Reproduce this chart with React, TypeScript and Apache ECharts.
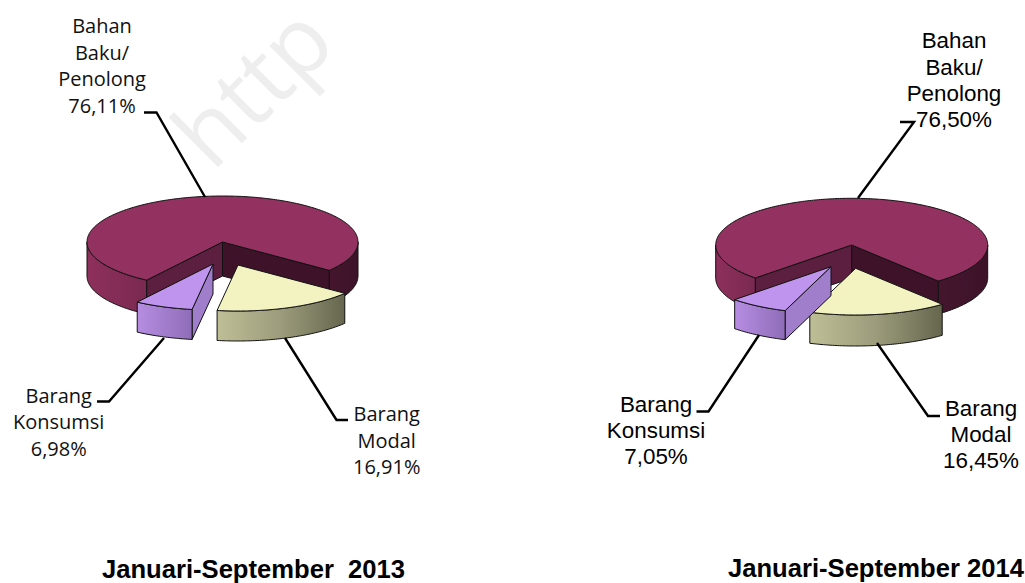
import React, { useEffect, useRef } from "react";
import * as echarts from "echarts";

const sliceNames = ["Bahan\nBaku/\nPenolong", "Barang\nModal", "Barang\nKonsumsi"];
const values2013 = [76.11, 16.91, 6.98];
const values2014 = [76.5, 16.45, 7.05];
const title2013 = "Januari-September  2013";
const title2014 = "Januari-September 2014";
const watermark = "http";

const RAD = Math.PI / 180;
const pct = (v: number) => v.toFixed(2).replace(".", ",") + "%";

type Pie = {
  cx: number; cy: number; rx: number; ry: number; endAngle: number;
  offsets: number[][]; depths: number[];
};

const palette: any[] = [
  { top: "#933160", wallL: ["#8E305C", "#7A2950"], wallR: ["#45162D", "#3D1329"], inL: "#5C1F40", inR: "#3E132A" },
  { top: "#F3F3C2", wall: ["#BEBE96", "#9C9C7C", "#66664E"] },
  { top: "#BF94EF", wall: ["#B68DE2", "#8F6DB8"], inR: "#A07ECB" },
];

function makeRender(values: number[], p: Pie) {
  const total = values.reduce((a, b) => a + b, 0);
  const stroke = { stroke: "#111", lineWidth: 1 };
  return (params: any) => {
    const i = params.dataIndex;
    const before = values.slice(0, i).reduce((a, b) => a + b, 0);
    const a0 = p.endAngle - (values[0] / total) * 360 + (before / total) * 360;
    const a1 = a0 + (values[i] / total) * 360;
    const [ox, oy] = p.offsets[i];
    const d = p.depths[i];
    const pt = (a: number, dy = 0) => [
      p.cx + ox + p.rx * Math.cos(a * RAD),
      p.cy + oy + p.ry * Math.sin(a * RAD) + dy,
    ];
    const arc = (s: number, e: number, dy = 0) => {
      const out: number[][] = [];
      const n = Math.max(2, Math.ceil(Math.abs(e - s)));
      for (let k = 0; k <= n; k++) out.push(pt(s + ((e - s) * k) / n, dy));
      return out;
    };
    const apex = [p.cx + ox, p.cy + oy];
    const apexB = [apex[0], apex[1] + d];
    const grad = (c: string[]) =>
      new echarts.graphic.LinearGradient(0, 0, 1, 0, c.map((color, k) => ({ offset: k / (c.length - 1), color })));
    const poly = (points: number[][], fill: any) => ({ type: "polygon", shape: { points }, style: { fill, ...stroke } });
    const wall = (s: number, e: number, fill: any) => poly([...arc(s, e), ...arc(e, s, d)], fill);
    const side = (a: number, fill: any) => poly([apex, pt(a), pt(a, d), apexB], fill);
    const c = palette[i];
    const children: any[] = [];
    if (i === 0) {
      // the slice wraps round the back: the visible rim lies either side of the gap
      children.push(wall(0, a1, grad(c.wallR)));
      children.push(wall(a0 + 360, 180, grad(c.wallL)));
      children.push(side(a0, c.inL));
      children.push(side(a1, c.inR));
    } else {
      if (c.inR) children.push(side(a0, c.inR));
      children.push(wall(a0, a1, grad(c.wall)));
    }
    children.push(poly([apex, ...arc(a0, a1)], c.top));
    return { type: "group", children };
  };
}

const pie2013: Pie = {
  cx: 222.5, cy: 242, rx: 135.5, ry: 46, endAngle: 38,
  offsets: [[0, 0], [15.5, 23], [-9.5, 22]], depths: [34, 30, 30],
};
const pie2014: Pie = {
  cx: 851.7, cy: 245, rx: 136, ry: 46.7, endAngle: 50.5,
  offsets: [[0, 0], [4, 23.3], [-20.7, 21.7]], depths: [33, 31, 29],
};

const labelFont2013 = { fontFamily: "Open Sans", fontSize: 20, lineHeight: 26.6, fill: "#111" };
const labelFont2014 = { fontFamily: "Liberation Sans", fontSize: 22.4, lineHeight: 26.4, fill: "#000" };

function label(text: string, x: number, bottom: number, font: any) {
  return {
    type: "text", x, y: bottom, silent: true,
    style: { text, align: "center", verticalAlign: "bottom", ...font },
  };
}
function leader(points: number[][]) {
  return {
    type: "polyline", silent: true, z: 5,
    shape: { points },
    style: { stroke: "#000", lineWidth: 2.4, fill: "none" },
  };
}
function title(text: string, x: number, y: number) {
  return {
    type: "text", x, y, silent: true,
    style: { text, align: "left", verticalAlign: "bottom", fontFamily: "Liberation Sans", fontWeight: "bold", fontSize: 25.6, fill: "#000" },
  };
}

export default function App() {
  const ref = useRef<HTMLDivElement>(null);
  useEffect(() => {
    document.body.style.margin = "0";
    const chart = echarts.init(ref.current!, null, { renderer: "svg" });
    chart.setOption({
      animation: false,
      backgroundColor: "#fff",
      graphic: { elements: [
        {
          type: "text", x: 220, y: 180, rotation: Math.PI / 4, silent: true, z: -10,
          style: { text: watermark, fontFamily: "Open Sans", fontSize: 92, fill: "#EEEEEE", align: "left", verticalAlign: "bottom" },
        },
        leader([[144, 112.5], [156.5, 112.5], [205, 197]]),
        leader([[97, 401.5], [109, 401.5], [164, 338]]),
        leader([[348, 420], [336.5, 420], [285, 338]]),
        leader([[900, 122], [914, 122], [858, 198]]),
        leader([[696.5, 411.5], [708.5, 411.5], [759, 335]]),
        leader([[940, 416], [928, 416], [877, 343]]),
        label(sliceNames[0] + "\n" + pct(values2013[0]), 102, 118.5, labelFont2013),
        label(sliceNames[2] + "\n" + pct(values2013[2]), 58.7, 461.5, labelFont2013),
        label(sliceNames[1] + "\n" + pct(values2013[1]), 386.7, 480, labelFont2013),
        label(sliceNames[0] + "\n" + pct(values2014[0]), 954, 133, labelFont2014),
        label(sliceNames[2] + "\n" + pct(values2014[2]), 656, 470, labelFont2014),
        label(sliceNames[1] + "\n" + pct(values2014[1]), 981, 474, labelFont2014),
        title(title2013, 102, 582),
        title(title2014, 728, 581),
      ] },
      series: [
        { type: "custom", coordinateSystem: "none", silent: true, z: 3, data: values2013.map((v) => [v]), renderItem: makeRender(values2013, pie2013) },
        { type: "custom", coordinateSystem: "none", silent: true, z: 3, data: values2014.map((v) => [v]), renderItem: makeRender(values2014, pie2014) },
      ],
    });
    return () => chart.dispose();
  }, []);
  return <div ref={ref} style={{ width: 1025, height: 583 }} />;
}
